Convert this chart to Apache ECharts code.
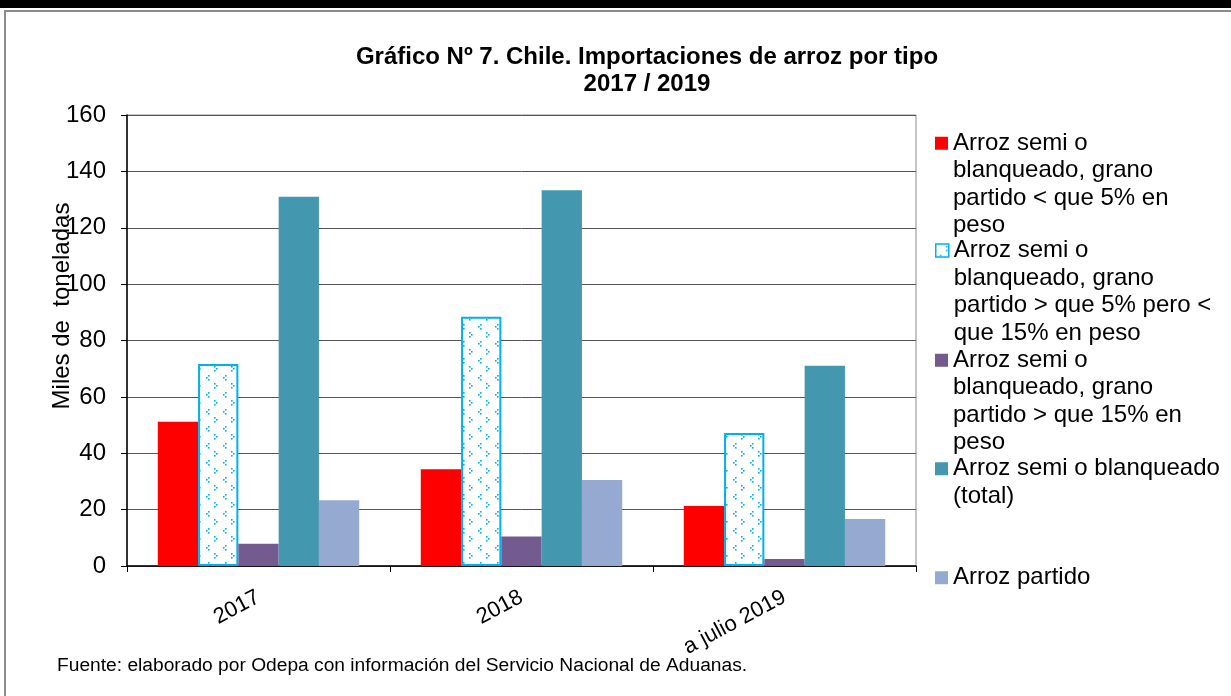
<!DOCTYPE html>
<html>
<head>
<meta http-equiv="Content-Type" content="text/html; charset=utf-8" />
<title>Importaciones de arroz por tipo</title>
<script type="text/javascript" src="https://cdn.jsdelivr.net/npm/echarts@6/dist/echarts.min.js"></script>
<style>
html, body {
	margin: 0;
	padding: 0;
	width: 1231px;
	height: 696px;
	overflow: hidden;
	background: #ffffff;
}
.topbar {
	position: absolute;
	left: 0;
	top: 0;
	width: 1231px;
	height: 8px;
	background: #000000;
}
.frame {
	position: absolute;
	left: 4px;
	top: 10px;
	width: 1240px;
	height: 700px;
	border: 2px solid #8c8c8c;
}
#chart {
	position: absolute;
	left: 0;
	top: 0;
	width: 1231px;
	height: 696px;
}
</style>
</head>
<body>
	<div class="topbar"></div>
	<div class="frame"></div>
	<div id="chart"></div>

	<script type="text/javascript">
		// datos (miles de toneladas)
		var categories = [ '2017', '2018', 'a julio 2019' ];
		var semiMenos5 = [ 51.2, 34.3, 21.3 ];
		var semi5a15 = [ 71.7, 88.4, 47.2 ];
		var semiMas15 = [ 7.9, 10.5, 2.5 ];
		var semiTotal = [ 131.0, 133.3, 71.0 ];
		var partido = [ 23.3, 30.5, 16.7 ];

		var seriesNames = [
				'Arroz semi o blanqueado, grano partido < que 5% en peso',
				'Arroz semi o blanqueado, grano partido > que 5% pero < que 15% en peso',
				'Arroz semi o blanqueado, grano partido > que 15% en peso',
				'Arroz semi o blanqueado (total)', 'Arroz partido' ];
		// nombres de la leyenda con sus cortes de linea
		var legendLines = [
				[ 'Arroz semi o', 'blanqueado, grano', 'partido < que 5% en', 'peso' ],
				[ 'Arroz semi o', 'blanqueado, grano', 'partido > que 5% pero <', 'que 15% en peso' ],
				[ 'Arroz semi o', 'blanqueado, grano', 'partido > que 15% en', 'peso' ],
				[ 'Arroz semi o blanqueado', '(total)' ],
				[ 'Arroz partido' ] ];
		var legendTops = [ 129.5, 236, 346.5, 455, 564 ];

		var font = '"Liberation Sans", Arial, sans-serif';
		var lineH = 27.5;

		// trama de puntos celeste para la serie 5%-15%
		var tile = document.createElement('canvas');
		tile.width = 17;
		tile.height = 17;
		var ctx = tile.getContext('2d');
		ctx.fillStyle = '#ffffff';
		ctx.fillRect(0, 0, 17, 17);
		ctx.fillStyle = '#00b0f0';
		[ [ 4, 1 ], [ 2, 3 ], [ 4, 5 ], [ 10, 9 ], [ 12, 11 ], [ 10, 13 ] ]
				.forEach(function(p) {
					ctx.fillRect(p[0], p[1], 1.6, 1.6);
				});
		var dotPattern = {
			image : tile,
			repeat : 'repeat'
		};

		var colors = [ '#ff0000', dotPattern, '#735a8f', '#4398b0', '#96a9d0' ];
		var values = [ semiMenos5, semi5a15, semiMas15, semiTotal, partido ];

		var series = [];
		for (var i = 0; i < values.length; i++) {
			series.push({
				name : seriesNames[i],
				type : 'bar',
				barGap : '0%',
				barCategoryGap : '23.4%',
				itemStyle : i == 1 ? {
					color : colors[i],
					borderColor : '#00b0f0',
					borderWidth : 2
				} : {
					color : colors[i]
				},
				data : values[i]
			});
		}

		// icono cuadrado arriba, alineado con la primera linea del texto
		function topSquare(h) {
			var a = (lineH - 13) / 2;
			return 'path://M0,0L0.01,0M0,' + a + 'L13,' + a + 'L13,' + (a + 13)
					+ 'L0,' + (a + 13) + 'ZM0,' + h + 'L0.01,' + h;
		}

		var legends = [];
		for (var k = 0; k < legendLines.length; k++) {
			(function(k) {
				var h = legendLines[k].length * lineH;
				var lg = {
					show : true,
					orient : 'vertical',
					left : 935,
					top : legendTops[k],
					padding : 0,
					itemWidth : 13,
					itemHeight : h,
					icon : topSquare(h),
					selectedMode : false,
					data : [ seriesNames[k] ],
					formatter : function() {
						return legendLines[k].join('\n');
					},
					textStyle : {
						color : '#000000',
						fontFamily : font,
						fontSize : 24,
						lineHeight : lineH
					}
				};
				if (k == 1) {
					lg.itemStyle = {
						borderColor : '#00b0f0',
						borderWidth : 1.5
					};
				}
				legends.push(lg);
			})(k);
		}

		var myChart = echarts.init(document.getElementById('chart'), null, {
			renderer : 'canvas'
		});
		myChart.setOption({
			animation : false,
			backgroundColor : 'transparent',
			title : [ {
				text : 'Gráfico Nº 7. Chile. Importaciones de arroz por tipo\n2017 / 2019',
				left : 647,
				top : 43.5,
				padding : 0,
				textAlign : 'center',
				textStyle : {
					color : '#000000',
					fontFamily : font,
					fontWeight : 'bold',
					fontSize : 24,
					lineHeight : 27
				}
			}, {
				text : 'Fuente: elaborado por Odepa con información del Servicio Nacional de Aduanas.',
				left : 57,
				top : 654,
				padding : 0,
				textStyle : {
					color : '#000000',
					fontFamily : font,
					fontWeight : 'normal',
					fontSize : 19.2,
					lineHeight : 24
				}
			} ],
			legend : legends,
			grid : {
				show : true,
				left : 127,
				right : 315,
				top : 115,
				bottom : 130,
				borderColor : '#8c8c8c',
				borderWidth : 1
			},
			xAxis : [ {
				type : 'category',
				data : categories,
				axisLine : {
					lineStyle : {
						color : '#000000',
						width : 1.5
					}
				},
				axisTick : {
					show : true,
					length : 6,
					lineStyle : {
						color : '#000000'
					}
				},
				axisLabel : {
					rotate : 28,
					margin : 30,
					color : '#000000',
					fontFamily : font,
					fontSize : 22
				}
			} ],
			yAxis : [ {
				type : 'value',
				min : 0,
				max : 160,
				interval : 20,
				axisLine : {
					show : true,
					lineStyle : {
						color : '#000000',
						width : 1.5
					}
				},
				axisTick : {
					show : true,
					length : 6,
					lineStyle : {
						color : '#000000'
					}
				},
				axisLabel : {
					margin : 21,
					color : '#000000',
					fontFamily : font,
					fontSize : 24
				},
				splitLine : {
					lineStyle : {
						color : '#555555',
						width : 1
					}
				}
			} ],
			graphic : [ {
				type : 'text',
				x : 62,
				y : 306,
				rotation : Math.PI / 2,
				style : {
					text : 'Miles de  toneladas',
					fill : '#000000',
					font : '24px ' + font,
					align : 'center',
					verticalAlign : 'middle'
				}
			} ],
			series : series
		});
	</script>
</body>
</html>
